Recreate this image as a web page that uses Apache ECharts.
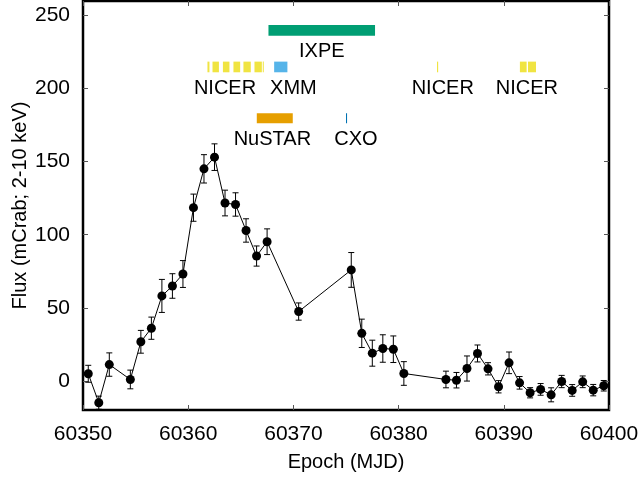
<!DOCTYPE html>
<html><head><meta charset="utf-8">
<script src="https://cdn.jsdelivr.net/npm/echarts@6/dist/echarts.min.js"></script>
<style>html,body{margin:0;padding:0;background:#fff}#c{width:644px;height:481px}</style>
</head><body><div id="c"></div>
<script>
// ---- data ----
const epochs = [60350.5, 60351.5, 60352.5, 60354.5, 60355.5, 60356.5, 60357.5, 60358.5, 60359.5,
  60360.5, 60361.5, 60362.5, 60363.5, 60364.5, 60365.5, 60366.5, 60367.5, 60370.5,
  60375.5, 60376.5, 60377.5, 60378.5, 60379.5, 60380.5, 60384.5, 60385.5, 60386.5,
  60387.5, 60388.5, 60389.5, 60390.5, 60391.5, 60392.5, 60393.5, 60394.5, 60395.5,
  60396.5, 60397.5, 60398.5, 60399.5];
const flux = [4.8, -15.0, 11.1, 0.9, 26.7, 36.0, 58.1, 64.9, 73.1,
  118.5, 145.1, 153.1, 121.7, 120.7, 102.9, 85.4, 95.2, 47.4,
  75.9, 32.5, 18.9, 22.1, 21.6, 5.0, 0.9, 0.4, 8.4,
  18.7, 8.2, -4.1, 12.3, -1.4, -8.2, -5.9, -9.6, -0.5,
  -6.6, -0.7, -6.4, -3.4];
const fluxErr = [5.8, 4.5, 8.0, 6.4, 7.8, 7.6, 11.3, 8.4, 9.2,
  9.3, 9.7, 9.1, 8.8, 8.0, 8.0, 6.9, 8.8, 5.9,
  11.9, 9.7, 8.9, 9.4, 9.1, 8.1, 5.7, 5.3, 8.6,
  5.8, 4.2, 4.2, 7.4, 4.3, 3.5, 4.0, 4.8, 4.2,
  4.0, 4.0, 3.9, 3.6];
const xTicks = [60350, 60360, 60370, 60380, 60390, 60400];
const yTicks = [0, 50, 100, 150, 200, 250];

// observation windows [start, end] (MJD)
const ixpeObs = [[60367.63, 60377.76]];
const nicerObs = [[60361.83, 60362.02], [60362.31, 60362.92], [60363.30, 60363.92], [60364.30, 60364.94],
  [60365.25, 60365.95], [60366.30, 60367.00], [60367.09, 60367.15], [60383.65, 60383.76],
  [60391.53, 60392.17], [60392.30, 60393.06]];
const xmmObs = [[60368.17, 60369.43]];
const nustarObs = [[60366.52, 60369.94]];
const cxoObs = [[60375.00, 60375.10]];
// rows (flux units): [low, high]
const rowIxpe = [236.2, 243.5];
const rowSoft = [211.2, 218.5];
const rowHard = [176.3, 183.2];

const labelNames = ['IXPE', 'NICER', 'XMM', 'NICER', 'NICER', 'NuSTAR', 'CXO'];
const labelX = [60372.7, 60363.5, 60370.0, 60384.2, 60392.2, 60368.0, 60375.95];
const labelY = [225.1, 199.8, 199.8, 199.8, 199.8, 164.9, 164.9];

// ---- chart ----
const FONT = 'Liberation Sans, Arial, sans-serif';
const chart = echarts.init(document.getElementById('c'), null, {renderer: 'canvas'});

function obsData(list, row) { return list.map(d => [d[0], d[1], row[0], row[1]]); }
function barItem(params, api) {
  const p1 = api.coord([api.value(0), api.value(3)]);
  const p2 = api.coord([api.value(1), api.value(2)]);
  const w = Math.max(p2[0] - p1[0], 1);
  return {type: 'rect', shape: {x: p1[0], y: p1[1], width: w, height: p2[1] - p1[1]},
    style: {fill: api.visual('color')}};
}
function obsSeries(name, list, row, color) {
  return {name, type: 'custom', renderItem: barItem, data: obsData(list, row),
    encode: {x: [0, 1], y: [2, 3]}, itemStyle: {color}, z: 3, silent: true};
}

const errData = epochs.map((t, i) => [t, flux[i], fluxErr[i]]);
const pts = epochs.map((t, i) => [t, flux[i]]);
const labData = labelX.map((x, i) => [x, labelY[i]]);

const tickStyle = {show: true, inside: true, length: 5, lineStyle: {color: '#555', width: 1}};
const noLine = {show: false, onZero: false};

chart.setOption({
  animation: false,
  backgroundColor: '#fff',
  grid: {left: 83, right: 35, top: 1, bottom: 71, show: true, borderColor: '#000', borderWidth: 2.5,
    containLabel: false, outerBoundsMode: 'none'},
  xAxis: [{
    type: 'value', min: 60350, max: 60400, interval: 10,
    name: 'Epoch (MJD)', nameLocation: 'middle', nameGap: 42, nameMoveOverlap: false,
    nameTextStyle: {fontFamily: FONT, fontSize: 20, color: '#000'},
    axisLine: noLine, splitLine: {show: false},
    axisTick: Object.assign({customValues: xTicks}, tickStyle),
    axisLabel: {customValues: xTicks, fontFamily: FONT, fontSize: 21, color: '#000', margin: 14,
      formatter: v => String(v)}
  }, {
    type: 'value', position: 'top', min: 60350, max: 60400, interval: 10,
    axisLine: noLine, splitLine: {show: false}, axisLabel: {show: false},
    axisTick: Object.assign({customValues: xTicks}, tickStyle)
  }],
  yAxis: [{
    type: 'value', min: -20, max: 260, interval: 10,
    name: 'Flux (mCrab; 2-10 keV)', nameLocation: 'middle', nameGap: 53, nameRotate: 90,
    nameMoveOverlap: false,
    nameTextStyle: {fontFamily: FONT, fontSize: 20, color: '#000'},
    axisLine: noLine, splitLine: {show: false},
    axisTick: Object.assign({customValues: yTicks}, tickStyle),
    axisLabel: {customValues: yTicks, fontFamily: FONT, fontSize: 21, color: '#000', margin: 13}
  }, {
    type: 'value', position: 'right', min: -20, max: 260, interval: 10,
    axisLine: noLine, splitLine: {show: false}, axisLabel: {show: false},
    axisTick: Object.assign({customValues: yTicks}, tickStyle)
  }],
  series: [
    obsSeries('IXPE', ixpeObs, rowIxpe, '#009E73'),
    obsSeries('NICER', nicerObs, rowSoft, '#F0E442'),
    obsSeries('XMM', xmmObs, rowSoft, '#56B4E9'),
    obsSeries('NuSTAR', nustarObs, rowHard, '#E69F00'),
    obsSeries('CXO', cxoObs, rowHard, '#0072B2'),
    {
      type: 'custom', silent: true, z: 4, data: labData, encode: {x: 0, y: 1},
      renderItem: function (params, api) {
        const p = api.coord([api.value(0), api.value(1)]);
        return {type: 'text', x: p[0], y: p[1],
          style: {text: labelNames[params.dataIndex], fill: '#000', font: '20px ' + FONT,
            align: 'center', verticalAlign: 'middle'}};
      }
    },
    {
      type: 'custom', silent: true, z: 5, data: errData, encode: {x: 0, y: 1},
      renderItem: function (params, api) {
        const x = api.value(0), y = api.value(1), e = api.value(2);
        const lo = api.coord([x, y - e]);
        const hi = api.coord([x, y + e]);
        const cw = 3;
        const st = {stroke: '#000', lineWidth: 1};
        return {type: 'group', children: [
          {type: 'line', shape: {x1: lo[0], y1: lo[1], x2: hi[0], y2: hi[1]}, style: st},
          {type: 'line', shape: {x1: lo[0] - cw, y1: lo[1], x2: lo[0] + cw, y2: lo[1]}, style: st},
          {type: 'line', shape: {x1: hi[0] - cw, y1: hi[1], x2: hi[0] + cw, y2: hi[1]}, style: st}
        ]};
      }
    },
    {
      type: 'line', data: pts, symbol: 'circle', symbolSize: 9, z: 6, silent: true,
      lineStyle: {color: '#000', width: 1}, itemStyle: {color: '#000'}
    }
  ]
});
</script>
</body></html>
